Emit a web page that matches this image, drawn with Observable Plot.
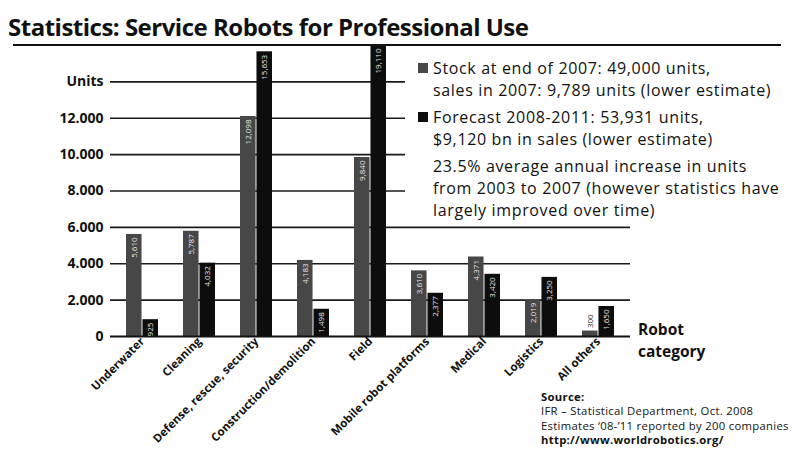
<!DOCTYPE html>
<html>
<head>
<meta charset="utf-8">
<script src="https://cdn.jsdelivr.net/npm/d3@7"></script>
<script src="https://cdn.jsdelivr.net/npm/@observablehq/plot@0.6"></script>
<style>
  body { margin: 0; background: #fff; }
  #wrap { position: relative; width: 798px; height: 449px; overflow: hidden; font-family: "Open Sans", sans-serif; color: #111; }
  #wrap svg { position: absolute; left: 0; top: 0; }
  .abs { position: absolute; white-space: nowrap; }
  #title { left: 8px; top: 10px; font-size: 24px; font-weight: 700; letter-spacing: -0.5px; line-height: 33px; }
  #rule { left: 13px; top: 44px; width: 768px; height: 0; border-top: 2px solid #111; }
  #legend { left: 418px; top: 57px; font-size: 16px; letter-spacing: 0.65px; line-height: 22px; }
  .item { position: relative; padding-left: 15px; margin-bottom: 5px; }
  .sw { position: absolute; left: 0; top: 6px; width: 10px; height: 10px; }
  #robot { left: 638px; top: 318px; font-size: 15.5px; font-weight: 700; line-height: 22px; }
  #source { left: 541px; top: 390px; font-size: 11.3px; line-height: 14.4px; letter-spacing: 0.3px; }
</style>
</head>
<body>
<div id="wrap">
  <div class="abs" id="title">Statistics: Service Robots for Professional Use</div>
  <div class="abs" id="rule"></div>
  <div class="abs" id="legend">
    <div class="item"><span class="sw" id="sw1"></span>Stock at end of 2007: 49,000 units,<br>sales in 2007: 9,789 units (lower estimate)</div>
    <div class="item"><span class="sw" id="sw2"></span>Forecast 2008-2011: 53,931 units,<br>$9,120 bn in sales (lower estimate)</div>
    <div class="item">23.5% average annual increase in units<br>from 2003 to 2007 (however statistics have<br>largely improved over time)</div>
  </div>
  <div class="abs" id="robot">Robot<br>category</div>
  <div class="abs" id="source"><b>Source:</b><br>IFR – Statistical Department, Oct. 2008<br>Estimates ‘08-’11 reported by 200 companies<br><b>http://www.worldrobotics.org/</b></div>
</div>
<script>
// ---- data ----
const categories = ["Underwater", "Cleaning", "Defense, rescue, security", "Construction/demolition", "Field", "Mobile robot platforms", "Medical", "Logistics", "All others"];
const stock2007 = [5610, 5787, 12098, 4183, 9840, 3610, 4371, 2019, 300];
const forecast0811 = [925, 4032, 15653, 1498, 19110, 2377, 3420, 3250, 1650];
const yTicks = [0, 2000, 4000, 6000, 8000, 10000, 12000, 14000];
const seriesNames = ["Stock at end of 2007", "Forecast 2008-2011"];

const colorStock = "#474747";
const colorForecast = "#0d0d0d";
document.getElementById("sw1").style.background = colorStock;
document.getElementById("sw2").style.background = colorForecast;

const rows = categories.flatMap((c, i) => [
  {category: c, series: seriesNames[0], value: stock2007[i]},
  {category: c, series: seriesNames[1], value: forecast0811[i]}
]);
const stockRows = rows.filter(d => d.series === seriesNames[0]);
const fcRows = rows.filter(d => d.series === seriesNames[1]);

const W = 798, H = 449;
const mL = 110, mR = 168, mT = 45, mB = 113;
const step = (W - mL - mR) / categories.length;
const bw = step * 0.57;
const half = bw / 2;
const yMax = 16000;
const minInside = 800;

const fmt = v => d3.format(",")(v);
const tickFmt = v => v === 14000 ? "Units" : d3.format(",")(v).replace(",", ".");
const labelY = d => Math.min(d.value, yMax);

const insideLabels = (data, dx) => Plot.text(data.filter(d => d.value >= minInside), {
  x: "category", y: labelY, text: d => fmt(d.value),
  dx, dy: 3, rotate: -90, textAnchor: "end", lineAnchor: "middle",
  fontSize: 8, fill: "#e6e6e6"
});
const outsideLabels = (data, dx) => Plot.text(data.filter(d => d.value < minInside), {
  x: "category", y: "value", text: d => fmt(d.value),
  dx, dy: -3, rotate: -90, textAnchor: "start", lineAnchor: "middle",
  fontSize: 8, fill: "#222"
});

const chart = Plot.plot({
  width: W,
  height: H,
  marginLeft: mL,
  marginRight: mR,
  marginTop: mT,
  marginBottom: mB,
  style: {fontFamily: "'Open Sans', sans-serif", background: "transparent", color: "#111"},
  x: {domain: categories, paddingInner: 0.43, paddingOuter: 0.215, label: null},
  y: {domain: [0, yMax], label: null},
  marks: [
    Plot.ruleY(yTicks.filter(v => v > 0 && v <= 6000), {stroke: "#1a1a1a", strokeWidth: 1.6}),
    Plot.ruleY(yTicks.filter(v => v > 6000), {stroke: "#1a1a1a", strokeWidth: 1.6, insetRight: 225}),
    Plot.barY(stockRows, {x: "category", y: "value", fill: colorStock, insetRight: half, clip: true}),
    Plot.barY(fcRows, {x: "category", y: "value", fill: colorForecast, insetLeft: half, clip: true}),
    Plot.ruleY([0], {stroke: "#111", strokeWidth: 2.2}),
    insideLabels(stockRows, -half / 2),
    insideLabels(fcRows, half / 2),
    outsideLabels(stockRows, -half / 2),
    outsideLabels(fcRows, half / 2),
    Plot.axisY({ticks: yTicks, tickFormat: tickFmt, tickSize: 0, tickPadding: 7, fontSize: 14, fontWeight: "bold", label: null}),
    Plot.axisX({tickRotate: -45, tickSize: 0, tickPadding: 3, fontSize: 11.5, fontWeight: "bold", label: null})
  ]
});
document.getElementById("wrap").prepend(chart);
</script>
</body>
</html>
